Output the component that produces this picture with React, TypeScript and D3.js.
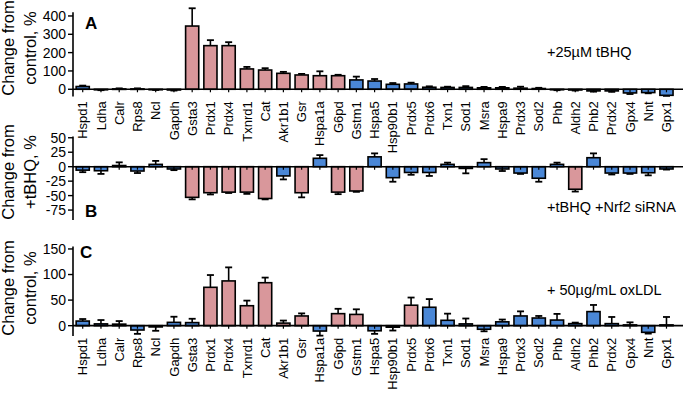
import React from "react";
import * as d3 from "d3";

const categories = ["Hspd1","Ldha","Calr","Rps8","Ncl","Gapdh","Gsta3","Prdx1","Prdx4","Txnrd1","Cat","Akr1b1","Gsr","Hspa1a","G6pd","Gstm1","Hspa5","Hsp90b1","Prdx5","Prdx6","Txn1","Sod1","Msra","Hspa9","Prdx3","Sod2","Phb","Aldh2","Phb2","Prdx2","Gpx4","Nnt","Gpx1"];

const valuesA = [15,-3,2,2,-2,-4,345,238,238,111,105,87,78,74,74,51,45,27,29,11,10,10,8,8,6,4,-2,-4,-9,-9,-20,-18,-33];
const errorsA = [5,2,3,3,2,3,97,30,19,11,10,8,6,24,5,18,11,7,7,5,4,7,5,5,8,4,3,3,4,5,6,4,3];
const pinkA = ["Gsta3","Prdx1","Prdx4","Txnrd1","Cat","Akr1b1","Gsr","Hspa1a","G6pd"];

const valuesB = [-6,-7,2,-7.5,4,-4,-53,-45,-44,-44,-55,-16,-45,14.5,-44,-42,17,-19,-10,-10,4,-3,7,-4,-11,-20,4,-39,15.5,-11,-11,-10.5,-4];
const errorsB = [3.5,5.5,5.5,3.5,6,2,3.5,3,1.5,3,1.5,6,8,5.5,3.5,1.5,6,7,4,6,3,8.5,6,3.5,1.5,6,3,4,7.5,2.5,1.5,4.5,1];
const pinkB = ["Gsta3","Prdx1","Prdx4","Txnrd1","Cat","Gsr","G6pd","Gstm1","Aldh2"];

const valuesC = [9,3.5,3,-8.5,-2.5,6.5,6,75,87.5,39,84,5,19,-10.5,23.5,22,-10,-3,40,36,10.5,3.5,-7,7.5,19,15,11,4,27.5,4,1.5,-13,1.5];
const errorsC = [4,7.5,6,7.5,7.5,11,7.5,24,26.5,10,10,5,5,9,9.5,10,6,6.5,15,16,13,10.5,4,4.5,9,4,12,2,13,13,5,2.5,15.5];
const pinkC = ["Prdx1","Prdx4","Txnrd1","Cat","Akr1b1","Gsr","G6pd","Gstm1","Prdx5"];

const ticksA = [0,100,200,300,400];
const ticksB = [50,25,0,-25,-50,-75];
const ticksC = [0,50,100,150];

const FONT = "'Liberation Sans', Arial, sans-serif";
const PINK = "#d9979b";
const BLUE = "#4a87d6";

const AXIS_X = 73;
const LINE_END = 683;

const x = d3.scaleBand<string>().domain(categories).range([73.6, 675.6]).paddingInner(0.28).paddingOuter(0.14);

type PanelProps = {
  values: number[];
  errors: number[];
  pink: string[];
  ticks: number[];
  y: d3.ScaleLinear<number, number>;
  showLabels: boolean;
  letter: string;
  letterPos: [number, number];
  note: string;
  notePos: [number, number];
  title: [string, string];
  titleY: number;
};

function Panel(p: PanelProps) {
  const { y } = p;
  const y0 = y(0);
  const [yBot, yTop] = y.range();
  const bw = x.bandwidth();
  const cap = 7;
  return (
    <g>
      {/* y-axis title */}
      <text transform={`translate(14,${p.titleY}) rotate(-90)`} textAnchor="middle" fontSize={16.5} fontFamily={FONT}>{p.title[0]}</text>
      <text transform={`translate(36,${p.titleY}) rotate(-90)`} textAnchor="middle" fontSize={16.5} fontFamily={FONT}>{p.title[1]}</text>
      {/* bars */}
      {categories.map((c, i) => {
        const v = p.values[i];
        const e = p.errors[i];
        const cx = (x(c) as number) + bw / 2;
        const top = Math.min(y(v), y0);
        const h = Math.abs(y(v) - y0);
        const ye = y(v + Math.sign(v || 1) * e);
        return (
          <g key={c}>
            <line x1={cx} x2={cx} y1={y(v)} y2={ye} stroke="#000" strokeWidth={1.6} />
            <line x1={cx - cap / 2} x2={cx + cap / 2} y1={ye} y2={ye} stroke="#000" strokeWidth={1.8} />
            <rect x={x(c)} y={top} width={bw} height={Math.max(h, 0.5)} fill={p.pink.includes(c) ? PINK : BLUE} stroke="#000" strokeWidth={1.6} />
          </g>
        );
      })}
      {/* x baseline and ticks */}
      <line x1={AXIS_X} x2={LINE_END} y1={y0} y2={y0} stroke="#000" strokeWidth={1.6} />
      {categories.map((c) => {
        const cx = (x(c) as number) + bw / 2;
        return <line key={"t" + c} x1={cx} x2={cx} y1={y0} y2={y0 + 3} stroke="#000" strokeWidth={1.2} />;
      })}
      {p.showLabels && categories.map((c) => {
        const cx = (x(c) as number) + bw / 2;
        return (
          <text key={"l" + c} transform={`translate(${cx + 4.6},${y0 + 12}) rotate(-90)`} textAnchor="end" fontSize={13} fontFamily={FONT}>{c}</text>
        );
      })}
      {/* y axis */}
      <line x1={AXIS_X} x2={AXIS_X} y1={yTop} y2={yBot} stroke="#000" strokeWidth={1.6} />
      {p.ticks.map((t) => (
        <g key={"yt" + t}>
          <line x1={AXIS_X - 5} x2={AXIS_X} y1={y(t)} y2={y(t)} stroke="#000" strokeWidth={1.4} />
          <text x={AXIS_X - 7} y={y(t)} dy="0.35em" textAnchor="end" fontSize={14} fontFamily={FONT}>{t}</text>
        </g>
      ))}
      <text x={p.letterPos[0]} y={p.letterPos[1]} fontSize={17} fontWeight="bold" fontFamily={FONT}>{p.letter}</text>
      <text x={p.notePos[0]} y={p.notePos[1]} fontSize={14.5} fontFamily={FONT}>{p.note}</text>
    </g>
  );
}

export default function App() {
  const yA = d3.scaleLinear().domain([-40, 420]).range([96.6, 12.3]);
  const yB = d3.scaleLinear().domain([-92, 52]).range([219.9, 136.6]);
  const yC = d3.scaleLinear().domain([-20, 155]).range([335.9, 246.4]);
  return (
    <svg width={688} height={403} style={{ position: "absolute", left: 0, top: 0, background: "#fff" }}>
      <rect width={688} height={403} fill="#fff" />
      <Panel values={valuesA} errors={errorsA} pink={pinkA} ticks={ticksA} y={yA} showLabels={true}
        letter="A" letterPos={[85, 29]} note="+25µM tBHQ" notePos={[547, 57]}
        title={["Change from", "control, %"]} titleY={48} />
      <Panel values={valuesB} errors={errorsB} pink={pinkB} ticks={ticksB} y={yB} showLabels={false}
        letter="B" letterPos={[85, 217]} note="+tBHQ +Nrf2 siRNA" notePos={[547, 212]}
        title={["Change from", "+tBHQ, %"]} titleY={172} />
      <Panel values={valuesC} errors={errorsC} pink={pinkC} ticks={ticksC} y={yC} showLabels={true}
        letter="C" letterPos={[80, 258]} note="+ 50µg/mL oxLDL" notePos={[547, 295]}
        title={["Change from", "control, %"]} titleY={288} />
    </svg>
  );
}
